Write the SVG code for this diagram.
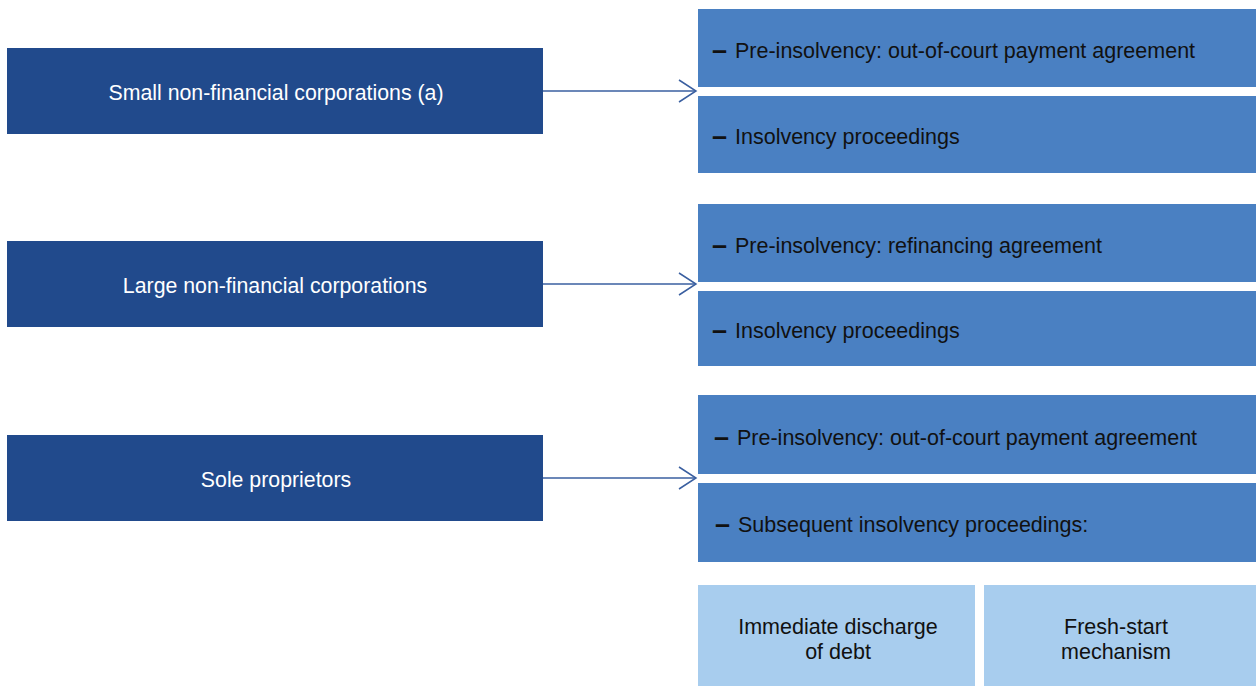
<svg xmlns="http://www.w3.org/2000/svg" width="1256" height="686" viewBox="0 0 1256 686">
<style>
.dark{fill:#214a8c}
.mid{fill:#4a80c2}
.light{fill:#a8cdee}
.lt{font-family:"Liberation Sans",Arial,sans-serif;font-size:21.3px;fill:#ffffff;text-anchor:middle}
.rt{font-family:"Liberation Sans",Arial,sans-serif;font-size:21.5px;fill:#111111}
.dash{font-family:"Liberation Sans",Arial,sans-serif;font-size:27px;font-weight:bold;fill:#111111}
.bt{font-family:"Liberation Sans",Arial,sans-serif;font-size:21.5px;fill:#111111;text-anchor:middle}
.con{stroke:#3a5fa0;stroke-width:1.5;fill:none}
</style>
<defs>
<marker id="arr" markerWidth="20" markerHeight="24" refX="18" refY="12" markerUnits="userSpaceOnUse" orient="auto">
<path d="M1,1 L18,12 L1,23" fill="none" stroke="#3a5fa0" stroke-width="1.5"/>
</marker>
</defs>
<g id="connectors">
<line class="con" x1="543" y1="91" x2="696" y2="91" marker-end="url(#arr)"/>
<line class="con" x1="543" y1="284" x2="696" y2="284" marker-end="url(#arr)"/>
<line class="con" x1="543" y1="478" x2="696" y2="478" marker-end="url(#arr)"/>
</g>
<g id="small-corp"><rect class="dark" x="7" y="48" width="536" height="86"/><text class="lt" x="276" y="100">Small non-financial corporations (a)</text></g>
<g id="large-corp"><rect class="dark" x="7" y="241" width="536" height="86"/><text class="lt" x="275" y="293">Large non-financial corporations</text></g>
<g id="sole-prop"><rect class="dark" x="7" y="435" width="536" height="86"/><text class="lt" x="276" y="487">Sole proprietors</text></g>
<g id="r1"><rect class="mid" x="698" y="9" width="558" height="78"/><text class="dash" x="712" y="59">–</text><text class="rt" x="735" y="58">Pre-insolvency: out-of-court payment agreement</text></g>
<g id="r2"><rect class="mid" x="698" y="96" width="558" height="77"/><text class="dash" x="712" y="145">–</text><text class="rt" x="735" y="144">Insolvency proceedings</text></g>
<g id="r3"><rect class="mid" x="698" y="204" width="558" height="78"/><text class="dash" x="712" y="254">–</text><text class="rt" x="735" y="253">Pre-insolvency: refinancing agreement</text></g>
<g id="r4"><rect class="mid" x="698" y="291" width="558" height="75"/><text class="dash" x="712" y="339">–</text><text class="rt" x="735" y="338">Insolvency proceedings</text></g>
<g id="r5"><rect class="mid" x="698" y="395" width="558" height="79"/><text class="dash" x="714" y="446">–</text><text class="rt" x="737" y="445">Pre-insolvency: out-of-court payment agreement</text></g>
<g id="r6"><rect class="mid" x="698" y="483" width="558" height="79"/><text class="dash" x="715" y="533">–</text><text class="rt" x="738" y="532">Subsequent insolvency proceedings:</text></g>
<g id="discharge"><rect class="light" x="698" y="585" width="277" height="101"/><text class="bt" x="838" y="634">Immediate discharge</text><text class="bt" x="838" y="659">of debt</text></g>
<g id="fresh"><rect class="light" x="984" y="585" width="272" height="101"/><text class="bt" x="1116" y="634">Fresh-start</text><text class="bt" x="1116" y="659">mechanism</text></g>
</svg>
